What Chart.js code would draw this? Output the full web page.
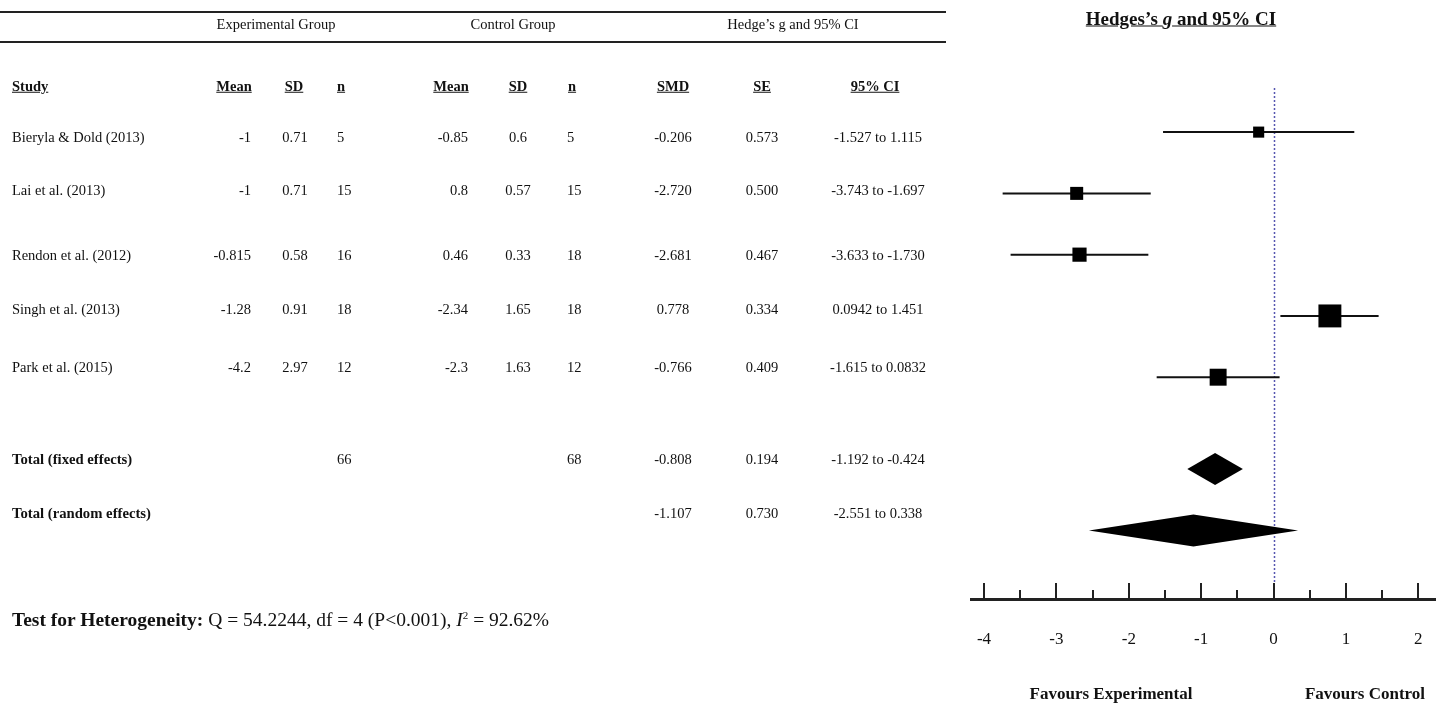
<!DOCTYPE html>
<html>
<head>
<meta charset="utf-8">
<script src="https://cdn.jsdelivr.net/npm/chart.js@4.4.1/dist/chart.umd.min.js"></script>
<style>
  html, body { margin: 0; padding: 0; background: #fff; }
  #wrap { position: relative; width: 1440px; height: 707px; overflow: hidden;
          font-family: "Liberation Serif", "Times New Roman", serif; color: #111; }
  #forest { position: absolute; left: 0; top: 0; }
  .t { position: absolute; white-space: nowrap; line-height: 1; font-size: 14.5px; }
  .hd { font-weight: bold; text-decoration: underline; }
  .rule { position: absolute; left: 0; width: 946px; height: 2px; background: #222; }
</style>
</head>
<body>
<div id="wrap">
  <canvas id="forest" width="1440" height="707"></canvas>
  <div class="rule" style="top:11px"></div>
  <div class="rule" style="top:41px"></div>
</div>
<script>
// study level data
const studies = ["Bieryla & Dold (2013)", "Lai et al. (2013)", "Rendon et al. (2012)", "Singh et al. (2013)", "Park et al. (2015)"];
const expMean = [-1, -1, -0.815, -1.28, -4.2];
const expSD = [0.71, 0.71, 0.58, 0.91, 2.97];
const expN = [5, 15, 16, 18, 12];
const ctlMean = [-0.85, 0.8, 0.46, -2.34, -2.3];
const ctlSD = [0.6, 0.57, 0.33, 1.65, 1.63];
const ctlN = [5, 15, 18, 18, 12];
const smd = [-0.206, -2.720, -2.681, 0.778, -0.766];
const se = [0.573, 0.500, 0.467, 0.334, 0.409];
const ciLow = [-1.527, -3.743, -3.633, 0.0942, -1.615];
const ciHigh = [1.115, -1.697, -1.730, 1.451, 0.0832];

// pooled estimates
const pooledLabels = ["Total (fixed effects)", "Total (random effects)"];
const pooledNExp = [66, null];
const pooledNCtl = [68, null];
const pooledSMD = [-0.808, -1.107];
const pooledSE = [0.194, 0.730];
const pooledLow = [-1.192, -2.551];
const pooledHigh = [-0.424, 0.338];

// heterogeneity
const hetQ = 54.2244, hetDf = 4, hetI2 = 92.62;

const xTicks = [-4, -3, -2, -1, 0, 1, 2];

// layout (row slots on the plot, pixel rows for the table text)
const plotRows = [0, 1, 2, 3, 4];
const pooledRows = [5.5, 6.5];
const tableRowY = [137, 190, 255, 309, 367];
const pooledRowY = [459, 513];

function fmtCI(v) {
    let s = v.toFixed(3);
    if (Number(s) !== v) s = String(v);
    return s;
}

const wrap = document.getElementById('wrap');
function put(html, x, y, align, extra) {
    const el = document.createElement('div');
    el.className = 't' + (extra && extra.cls ? ' ' + extra.cls : '');
    el.innerHTML = html;
    el.style.left = x + 'px';
    el.style.top = y + 'px';
    const tx = align === 'r' ? '-100%' : (align === 'c' ? '-50%' : '0');
    el.style.transform = 'translate(' + tx + ',-50%)';
    if (extra && extra.style) el.style.cssText += extra.style;
    wrap.appendChild(el);
    return el;
}

// table headers
put('Experimental Group', 276, 24, 'c');
put('Control Group', 513, 24, 'c');
put('Hedge’s g and 95% CI', 793, 24, 'c');

const colHeads = [
    ['Study', 12, 'l'], ['Mean', 234, 'c'], ['SD', 294, 'c'], ['n', 337, 'l'],
    ['Mean', 451, 'c'], ['SD', 518, 'c'], ['n', 568, 'l'],
    ['SMD', 673, 'c'], ['SE', 762, 'c'], ['95% CI', 875, 'c']
];
colHeads.forEach(function(h) { put(h[0], h[1], 86, h[2], {cls: 'hd'}); });

// study rows
studies.forEach(function(name, i) {
    const y = tableRowY[i];
    put(name, 12, y, 'l');
    put(String(expMean[i]), 251, y, 'r');
    put(String(expSD[i]), 295, y, 'c');
    put(String(expN[i]), 337, y, 'l');
    put(String(ctlMean[i]), 468, y, 'r');
    put(String(ctlSD[i]), 518, y, 'c');
    put(String(ctlN[i]), 567, y, 'l');
    put(smd[i].toFixed(3), 673, y, 'c');
    put(se[i].toFixed(3), 762, y, 'c');
    put(fmtCI(ciLow[i]) + ' to ' + fmtCI(ciHigh[i]), 878, y, 'c');
});

// pooled rows
pooledLabels.forEach(function(name, j) {
    const y = pooledRowY[j];
    put(name, 12, y, 'l', {style: 'font-weight:bold;font-size:14.7px;'});
    if (pooledNExp[j] !== null) put(String(pooledNExp[j]), 337, y, 'l');
    if (pooledNCtl[j] !== null) put(String(pooledNCtl[j]), 567, y, 'l');
    put(pooledSMD[j].toFixed(3), 673, y, 'c');
    put(pooledSE[j].toFixed(3), 762, y, 'c');
    put(fmtCI(pooledLow[j]) + ' to ' + fmtCI(pooledHigh[j]), 878, y, 'c');
});

put('<b>Test for Heterogeneity:</b> Q = ' + hetQ + ', df = ' + hetDf + ' (P&lt;0.001), <i>I</i><sup style="font-size:11px;line-height:0">2</sup> = ' + hetI2 + '%',
    12, 620, 'l', {style: 'font-size:19.5px;'});

// plot title and side labels
put('<b><u>Hedges’s <i>g</i> and 95% CI</u></b>', 1181, 18, 'c', {style: 'font-size:19px;'});
put('<b>Favours Experimental</b>', 1111, 693, 'c', {style: 'font-size:17px;'});
put('<b>Favours Control</b>', 1365, 693, 'c', {style: 'font-size:17px;'});

// extra drawing: null line, pooled diamonds, axis tick marks
const forestExtras = {
    id: 'forestExtras',
    beforeDatasetsDraw(chart) {
        const {ctx, chartArea, scales: {x}} = chart;
        const x0 = Math.round(x.getPixelForValue(0)) + 0.5;
        ctx.save();
        ctx.strokeStyle = '#5656b0';
        ctx.lineWidth = 1.5;
        ctx.setLineDash([2, 2]);
        ctx.beginPath();
        ctx.moveTo(x0, chartArea.top);
        ctx.lineTo(x0, chartArea.bottom - 16);
        ctx.stroke();
        ctx.restore();
    },
    afterDatasetsDraw(chart) {
        const {ctx, scales: {x, y}} = chart;
        ctx.save();
        ctx.fillStyle = '#000';
        pooledSMD.forEach(function(est, j) {
            const yc = y.getPixelForValue(pooledRows[j]);
            const h = 16;
            ctx.beginPath();
            ctx.moveTo(x.getPixelForValue(pooledLow[j]), yc);
            ctx.lineTo(x.getPixelForValue(est), yc - h);
            ctx.lineTo(x.getPixelForValue(pooledHigh[j]), yc);
            ctx.lineTo(x.getPixelForValue(est), yc + h);
            ctx.closePath();
            ctx.fill();
        });
        ctx.restore();
    },
    afterDraw(chart) {
        const {ctx, chartArea, scales: {x}} = chart;
        const base = chartArea.bottom;
        ctx.save();
        ctx.strokeStyle = '#222';
        ctx.lineWidth = 2;
        for (let k = 0; k < xTicks.length; k++) {
            const px = Math.round(x.getPixelForValue(xTicks[k]));
            ctx.beginPath();
            ctx.moveTo(px, base);
            ctx.lineTo(px, base - 16);
            ctx.stroke();
            if (k < xTicks.length - 1) {
                const mx = Math.round(x.getPixelForValue((xTicks[k] + xTicks[k + 1]) / 2));
                ctx.beginPath();
                ctx.moveTo(mx, base);
                ctx.lineTo(mx, base - 9);
                ctx.stroke();
            }
        }
        ctx.restore();
    }
};

Chart.defaults.font.family = '"Liberation Serif", "Times New Roman", serif';
Chart.defaults.color = '#111';

const ciDatasets = studies.map(function(name, i) {
    return {
        type: 'line',
        label: name,
        data: [{x: ciLow[i], y: plotRows[i]}, {x: ciHigh[i], y: plotRows[i]}],
        borderColor: '#111',
        borderWidth: 2,
        pointRadius: 0,
        fill: false,
        order: 1
    };
});

const ctx = document.getElementById('forest').getContext('2d');
const forest = new Chart(ctx, {
    type: 'scatter',
    data: {
        datasets: [{
            label: 'SMD',
            data: studies.map(function(name, i) { return {x: smd[i], y: plotRows[i]}; }),
            pointStyle: 'rect',
            // square side grows with study weight (1 / SE^2)
            pointRadius: se.map(function(s) { return (5 + 2 / (s * s)) / Math.SQRT2; }),
            backgroundColor: '#000',
            borderWidth: 0,
            order: 0
        }].concat(ciDatasets)
    },
    options: {
        responsive: false,
        animation: false,
        layout: { autoPadding: false, padding: { left: 971, right: 5, top: 88, bottom: 0 } },
        plugins: {
            legend: { display: false },
            tooltip: { enabled: false }
        },
        scales: {
            x: {
                type: 'linear',
                min: -4.18,
                max: 2.23,
                afterBuildTicks: function(axis) {
                    axis.ticks = xTicks.map(function(v) { return {value: v}; });
                },
                afterFit: function(axis) { axis.height = 108; },
                ticks: {
                    padding: 0,
                    font: { size: 17 },
                    color: '#111',
                    callback: function(value) { return String(value); }
                },
                // invisible tick lines just push the labels down
                grid: { display: true, drawOnChartArea: false, drawTicks: true,
                        tickLength: 30, tickColor: 'rgba(0,0,0,0)' },
                border: { display: true, width: 3, color: '#222' }
            },
            y: {
                type: 'linear',
                min: -0.72,
                max: 7.62,
                reverse: true,
                display: false
            }
        }
    },
    plugins: [forestExtras]
});
</script>
</body>
</html>
